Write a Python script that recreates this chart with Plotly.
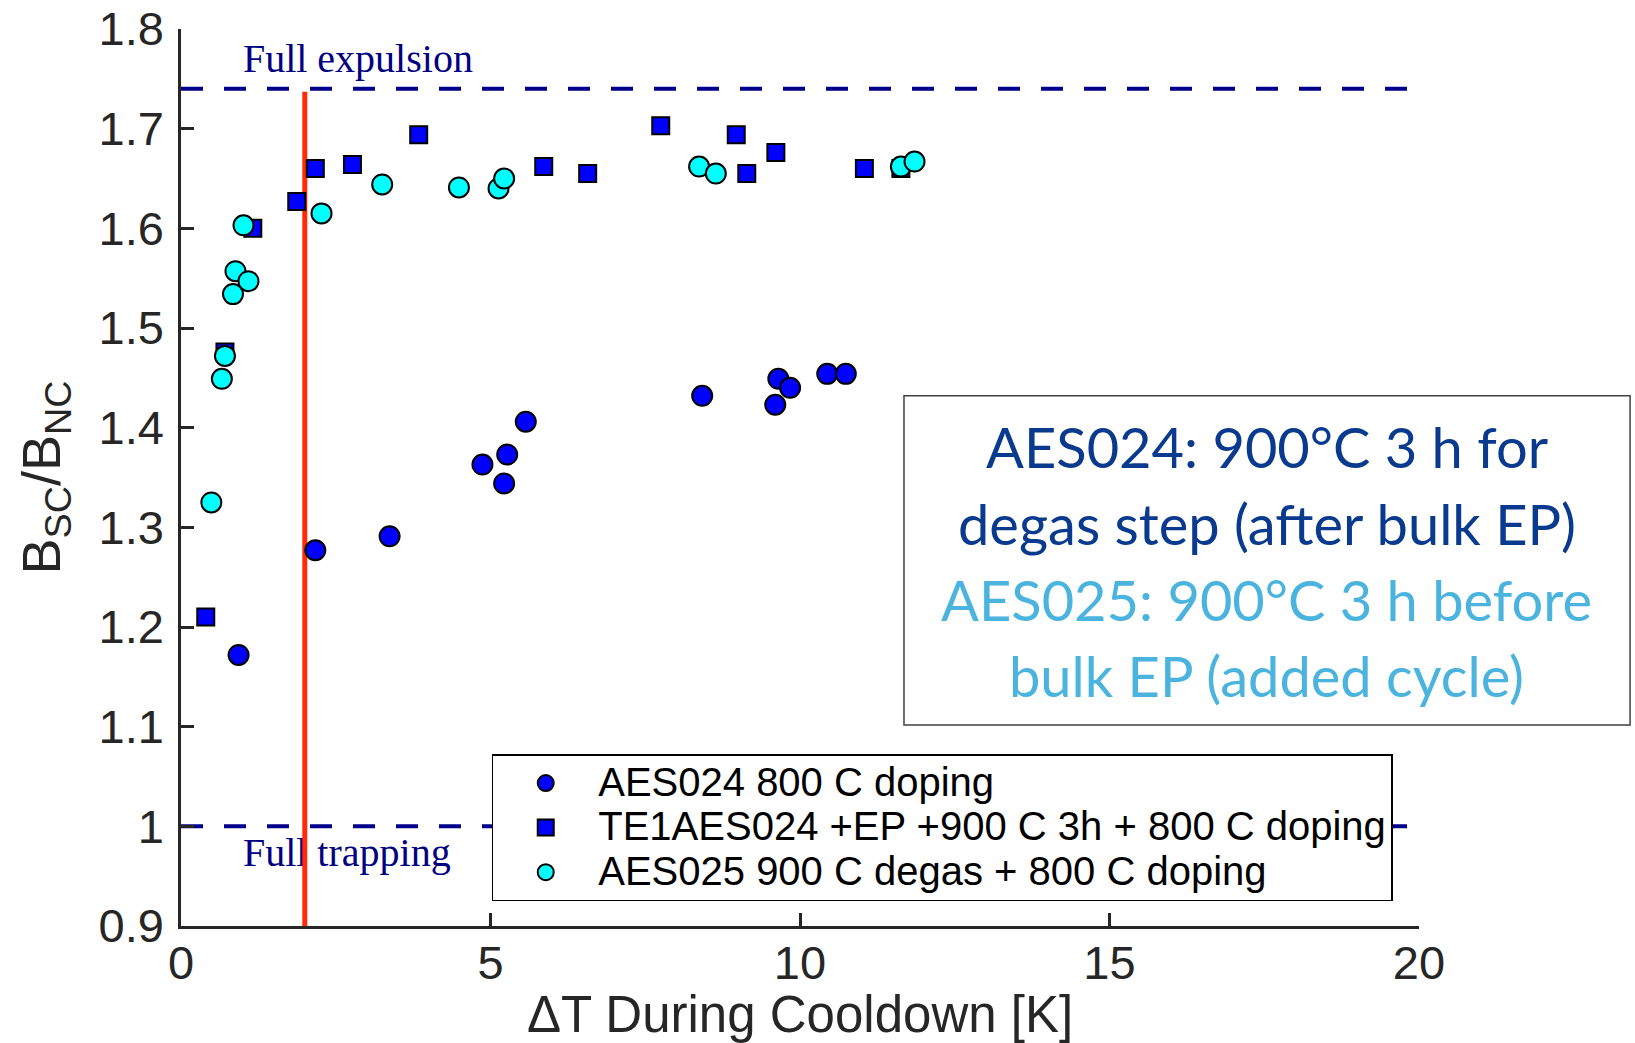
import plotly.graph_objects as go

# ---------------- data ----------------
aes024_x = [0.93, 2.17, 3.37, 4.87, 5.22, 5.27, 5.57, 8.42, 9.65, 9.60, 9.84, 10.44, 10.74]
aes024_y = [1.172, 1.277, 1.291, 1.363, 1.344, 1.373, 1.406, 1.432, 1.449, 1.423, 1.440, 1.454, 1.454]

te1_x = [0.40, 0.71, 1.16, 1.87, 2.17, 2.77, 3.84, 5.86, 6.57, 7.75, 8.97, 9.14, 9.61, 11.04, 11.63]
te1_y = [1.210, 1.476, 1.600, 1.627, 1.660, 1.664, 1.694, 1.662, 1.655, 1.703, 1.694, 1.655, 1.676, 1.660, 1.660]

aes025_x = [0.49, 0.66, 0.71, 0.84, 0.88, 1.09, 1.01, 2.27, 3.25, 4.49, 5.13, 5.22, 8.37, 8.64, 11.63, 11.85]
aes025_y = [1.325, 1.449, 1.472, 1.534, 1.557, 1.547, 1.603, 1.615, 1.644, 1.641, 1.640, 1.650, 1.662, 1.655, 1.662, 1.667]

series_names = [
    "AES024 800 C doping",
    "TE1AES024 +EP +900 C 3h + 800 C doping",
    "AES025 900 C degas + 800 C doping",
]

full_expulsion = 1.74
full_trapping = 1.0
cooldown_limit_x = 2.0
cooldown_line_top = 1.737
x_range = [0, 20]
y_range = [0.9, 1.8]

x_ticks = [0, 5, 10, 15, 20]
x_ticklabels = ["0", "5", "10", "15", "20"]
y_ticks = [0.9, 1.0, 1.1, 1.2, 1.3, 1.4, 1.5, 1.6, 1.7, 1.8]
y_ticklabels = ["0.9", "1", "1.1", "1.2", "1.3", "1.4", "1.5", "1.6", "1.7", "1.8"]

label_expulsion = "Full expulsion"
label_trapping = "Full trapping"
label_x = 1.0
label_expulsion_y = 1.767
label_trapping_y = 0.970

box_lines = [
    "AES024: 900°C 3 h for",
    "degas step (after bulk EP)",
    "AES025: 900°C 3 h before",
    "bulk EP (added cycle)",
]
box_colors = ["#0a3a8e", "#0a3a8e", "#4ab4de", "#4ab4de"]

# ---------------- figure ----------------
NAVY = "#00008b"
fig = go.Figure()

# text labels (drawn first, under the red line)
fig.add_trace(go.Scatter(
    x=[label_x, label_x], y=[label_expulsion_y, label_trapping_y],
    mode="text", text=[label_expulsion, label_trapping],
    textposition="middle right",
    textfont=dict(family="Liberation Serif, Times New Roman, serif", size=40, color="#000080"),
    showlegend=False, hoverinfo="skip", cliponaxis=False,
))

# reference dashed lines
for yv in (full_expulsion, full_trapping):
    fig.add_trace(go.Scatter(
        x=x_range, y=[yv, yv], mode="lines",
        line=dict(color=NAVY, width=4, dash="22px,21px"),
        showlegend=False, hoverinfo="skip",
    ))

# red vertical line
fig.add_trace(go.Scatter(
    x=[cooldown_limit_x, cooldown_limit_x], y=[y_range[0], cooldown_line_top],
    mode="lines", line=dict(color="#ff2a0a", width=5),
    showlegend=False, hoverinfo="skip", cliponaxis=False,
))


def legend_label(name):
    return "<span style='font-size:40px'>" + name + "</span>"


mline = dict(color="black", width=2)
fig.add_trace(go.Scatter(
    x=aes024_x, y=aes024_y, mode="markers", name=legend_label(series_names[0]),
    marker=dict(symbol="circle", size=20, color="#0000ff", line=mline),
))
fig.add_trace(go.Scatter(
    x=te1_x, y=te1_y, mode="markers", name=legend_label(series_names[1]),
    marker=dict(symbol="square", size=17, color="#0000ff", line=mline),
))
fig.add_trace(go.Scatter(
    x=aes025_x, y=aes025_y, mode="markers", name=legend_label(series_names[2]),
    marker=dict(symbol="circle", size=20, color="#00ffff", line=mline),
))

# text box
fig.add_shape(type="rect", xref="paper", yref="paper",
              x0=0.584, x1=1.1705, y0=0.224, y1=0.591,
              line=dict(color="#404040", width=1.5), fillcolor="white", layer="below")
box_y = [0.5342, 0.4483, 0.3636, 0.2789]
for txt, col, yy in zip(box_lines, box_colors, box_y):
    fig.add_annotation(xref="paper", yref="paper", x=0.877, y=yy,
                       text=txt, showarrow=False, xanchor="center", yanchor="middle",
                       font=dict(family="Lato, Noto Sans, sans-serif", size=56, color=col))

axis_font = dict(family="Liberation Sans, Arial, Helvetica, sans-serif", size=47, color="#262626")
title_font_x = dict(family="Liberation Sans, Arial, sans-serif", size=51, color="#262626")
title_font_y = dict(family="Liberation Sans, Arial, sans-serif", size=54, color="#262626")
fig.update_layout(
    width=1635, height=1043,
    margin=dict(l=181, r=216, t=29, b=117, autoexpand=False),
    paper_bgcolor="white", plot_bgcolor="white",
    showlegend=True,
    legend=dict(
        x=0.251, y=0.1915, xanchor="left", yanchor="top",
        bgcolor="white", bordercolor="black", borderwidth=1.5,
        font=dict(family="Liberation Sans, Arial, Helvetica, sans-serif", size=32, color="black"),
        itemwidth=95, tracegroupgap=0,
    ),
    xaxis=dict(
        range=x_range, tickvals=x_ticks, ticktext=x_ticklabels, automargin=False,
        showgrid=False, zeroline=False, showline=True, linecolor="#262626", linewidth=2.5,
        ticks="inside", ticklen=13, tickwidth=2.5, tickcolor="#262626",
        tickfont=axis_font, ticklabelstandoff=-6, mirror=False,
        title=dict(text="ΔT During Cooldown [K]", font=title_font_x, standoff=14),
    ),
    yaxis=dict(
        range=y_range, tickvals=y_ticks, ticktext=y_ticklabels, automargin=False,
        showgrid=False, zeroline=False, showline=True, linecolor="#262626", linewidth=2.5,
        ticks="inside", ticklen=13, tickwidth=2.5, tickcolor="#262626",
        tickfont=axis_font, ticklabelstandoff=5, mirror=False,
        title=dict(text="B<sub>SC</sub>/B<sub>NC</sub>", font=title_font_y, standoff=21),
    ),
)

fig.write_html("out.html")
